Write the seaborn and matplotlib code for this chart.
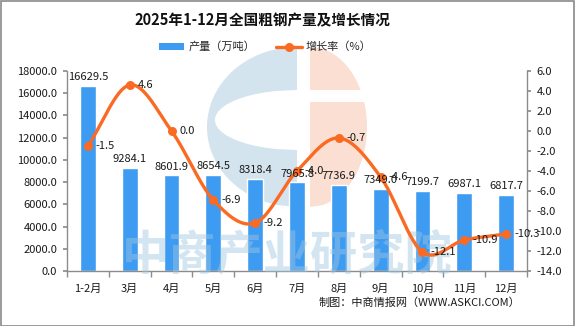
import numpy as np
import pandas as pd
import matplotlib
matplotlib.use("Agg")
import matplotlib.pyplot as plt
import seaborn as sns
from matplotlib.patches import Patch, Polygon, PathPatch
from matplotlib.lines import Line2D
from matplotlib.path import Path
from matplotlib.ticker import FixedLocator, FormatStrFormatter

# ---- data ----
months = ["1-2月", "3月", "4月", "5月", "6月", "7月", "8月", "9月", "10月", "11月", "12月"]
output = [16629.5, 9284.1, 8601.9, 8654.5, 8318.4, 7965.8, 7736.9, 7349.0, 7199.7, 6987.1, 6817.7]
growth = [-1.5, 4.6, 0.0, -6.9, -9.2, -4.0, -0.7, -4.6, -12.1, -10.9, -10.3]

df = pd.DataFrame({"月份": months, "产量": output, "增长率": growth})

BAR_BLUE = "#3d9cf1"
LINE_ORANGE = "#fb6a22"
GRAY = "#8c8c8c"

sns.set_theme(style="white")
plt.rcParams["font.family"] = ["Noto Sans CJK SC", "DejaVu Sans"]
plt.rcParams["axes.unicode_minus"] = False

W, H = 575, 326
fig = plt.figure(figsize=(W / 100, H / 100), dpi=100, facecolor="white")

# ---- background logo (pixel coordinates) ----
bg = fig.add_axes([0, 0, 1, 1], zorder=0)
bg.set_xlim(0, W)
bg.set_ylim(H, 0)
bg.axis("off")
bg.patch.set_visible(False)


def half_ellipse_x(cx, cy, rx, ry, ys, side):
    t = np.clip(1 - ((ys - cy) / ry) ** 2, 0, 1)
    return cx + side * rx * np.sqrt(t)


# blue crescent on the left
cy_o, ry_o = 127, 80
ys = np.linspace(cy_o - ry_o, cy_o + ry_o, 80)
outer = np.column_stack([half_ellipse_x(297, cy_o, 90, ry_o, ys, -1), ys])
outer = np.vstack([[297, ys[0]], outer, [297, ys[-1]], [297, ys[0]]])
yi = np.linspace(120 - 30, 120 + 30, 60)
inner = np.column_stack([half_ellipse_x(297, 120, 82, 30, yi, -1), yi])
inner = np.vstack([[297, yi[0]], inner, [297, yi[-1]], [297, yi[0]]])[::-1]
verts = np.vstack([outer, inner])
codes = ([Path.MOVETO] + [Path.LINETO] * (len(outer) - 2) + [Path.CLOSEPOLY]
         + [Path.MOVETO] + [Path.LINETO] * (len(inner) - 2) + [Path.CLOSEPOLY])
bg.add_patch(PathPatch(Path(verts, codes), facecolor="#d3e4ef", edgecolor="none"))

# orange half disc on the right, split by a white bar
for y0, y1 in [(47, 90), (102, 207)]:
    yy = np.linspace(y0, y1, 60)
    pts = np.column_stack([half_ellipse_x(310, 127, 57, 80, yy, 1), yy])
    pts = np.vstack([[310, y0], pts, [310, y1]])
    bg.add_patch(Polygon(pts, closed=True, facecolor="#fadfd2", edgecolor="none"))

# ---- main axes ----
left, right = 67 / W, 527 / W
bottom, top = (H - 271) / H, (H - 71) / H
ax = fig.add_axes([left, bottom, right - left, top - bottom], zorder=1)
ax.patch.set_visible(False)

sns.barplot(data=df, x="月份", y="产量", color=BAR_BLUE, width=0.38,
            saturation=1, ax=ax, zorder=2)
ax.set_xlim(-0.5, len(months) - 0.5)
ax.set_ylim(0, 18000)
ax.yaxis.set_major_locator(FixedLocator(np.arange(0, 18001, 2000)))
ax.yaxis.set_major_formatter(FormatStrFormatter("%.1f"))
ax.set_xlabel("")
ax.set_ylabel("")

ax2 = ax.twinx()
ax2.set_zorder(2)
ax2.patch.set_visible(False)
ax2.set_ylim(-14, 6)
ax2.yaxis.set_major_locator(FixedLocator(np.arange(-14, 6.1, 2)))
ax2.yaxis.set_major_formatter(FormatStrFormatter("%.1f"))

# smoothed growth curve (Catmull-Rom through the monthly points)
xs = np.arange(len(growth), dtype=float)
gy = np.array(growth, dtype=float)
px = np.concatenate([[2 * xs[0] - xs[1]], xs, [2 * xs[-1] - xs[-2]]])
py = np.concatenate([[2 * gy[0] - gy[1]], gy, [2 * gy[-1] - gy[-2]]])
sx, sy = [], []
for i in range(1, len(px) - 2):
    t = np.linspace(0, 1, 30, endpoint=(i == len(px) - 3))
    for arr, out in ((px, sx), (py, sy)):
        p0, p1, p2, p3 = arr[i - 1], arr[i], arr[i + 1], arr[i + 2]
        out.extend(0.5 * ((2 * p1) + (-p0 + p2) * t
                          + (2 * p0 - 5 * p1 + 4 * p2 - p3) * t ** 2
                          + (-p0 + 3 * p1 - 3 * p2 + p3) * t ** 3))
ax2.plot(sx, sy, color=LINE_ORANGE, lw=2.4, solid_capstyle="round", zorder=3)
sns.scatterplot(x=xs, y=gy, color=LINE_ORANGE, s=42, edgecolor=LINE_ORANGE,
                linewidth=0, ax=ax2, zorder=4, legend=False)

# value labels
for i, v in enumerate(output):
    ax2.text(i, v + 350, f"{v:.1f}", transform=ax.transData, ha="center",
             va="bottom", fontsize=8, color="#1a1a1a", zorder=5)
for i, g in enumerate(growth):
    ax2.text(i + 0.19, g, f"{g:.1f}", ha="left", va="center", fontsize=8,
             color="#1a1a1a", zorder=5)

# spines and ticks
for a in (ax, ax2):
    a.spines["top"].set_visible(False)
    for s in ("left", "right", "bottom"):
        a.spines[s].set_color(GRAY)
        a.spines[s].set_linewidth(1)
    a.grid(False)
ax.spines["right"].set_visible(False)
ax2.spines["left"].set_visible(False)
ax2.spines["bottom"].set_visible(False)

ax.tick_params(axis="y", direction="out", length=3, color=GRAY, labelsize=8,
               labelcolor="#1a1a1a", pad=4, left=True)
ax2.tick_params(axis="y", direction="out", length=3, color=GRAY, labelsize=8,
                labelcolor="#1a1a1a", pad=4, right=True)
ax.set_xticks(range(len(months)))
ax.set_xticklabels(months)
ax.tick_params(axis="x", which="major", length=0, labelsize=8,
               labelcolor="#1a1a1a", pad=9)
ax.xaxis.set_minor_locator(FixedLocator(np.arange(-0.5, len(months), 1.0)))
ax.tick_params(axis="x", which="minor", direction="out", length=4,
               color=GRAY, bottom=True)

# watermark text
fig.text(0.50, (H - 255) / H, "中商产业研究院", ha="center", va="center",
         fontsize=34, fontweight="bold", color="#9fc6e1", alpha=0.45,
         zorder=1.5)

# title, legend, source
fig.text(262 / W, 1 - 20 / H, "2025年1-12月全国粗钢产量及增长情况",
         ha="center", va="center", fontsize=10.5, fontweight="bold",
         color="#111111")
handles = [
    Patch(facecolor=BAR_BLUE, edgecolor="none"),
    Line2D([0], [0], color=LINE_ORANGE, lw=2.4, marker="o", markersize=5.5),
]
fig.legend(handles, ["产量（万吨）", "增长率（%）"], loc="center",
           bbox_to_anchor=(265 / W, 1 - 47 / H), ncol=2, frameon=False,
           fontsize=8, handlelength=2.3, handleheight=0.65, handletextpad=0.35,
           columnspacing=1.9)
fig.text(520 / W, 1 - 303 / H, "制图：中商情报网（WWW.ASKCI.COM）",
         ha="right", va="center", fontsize=8, color="#1a1a1a")

# outer frame
fig.add_artist(plt.Rectangle((0.5 / W, 0.5 / H), 1 - 1.5 / W, 1 - 1.5 / H,
                             transform=fig.transFigure, fill=False,
                             edgecolor="#8a8a8a", lw=1.2))

fig.savefig("out.png", dpi=100, facecolor="white")
